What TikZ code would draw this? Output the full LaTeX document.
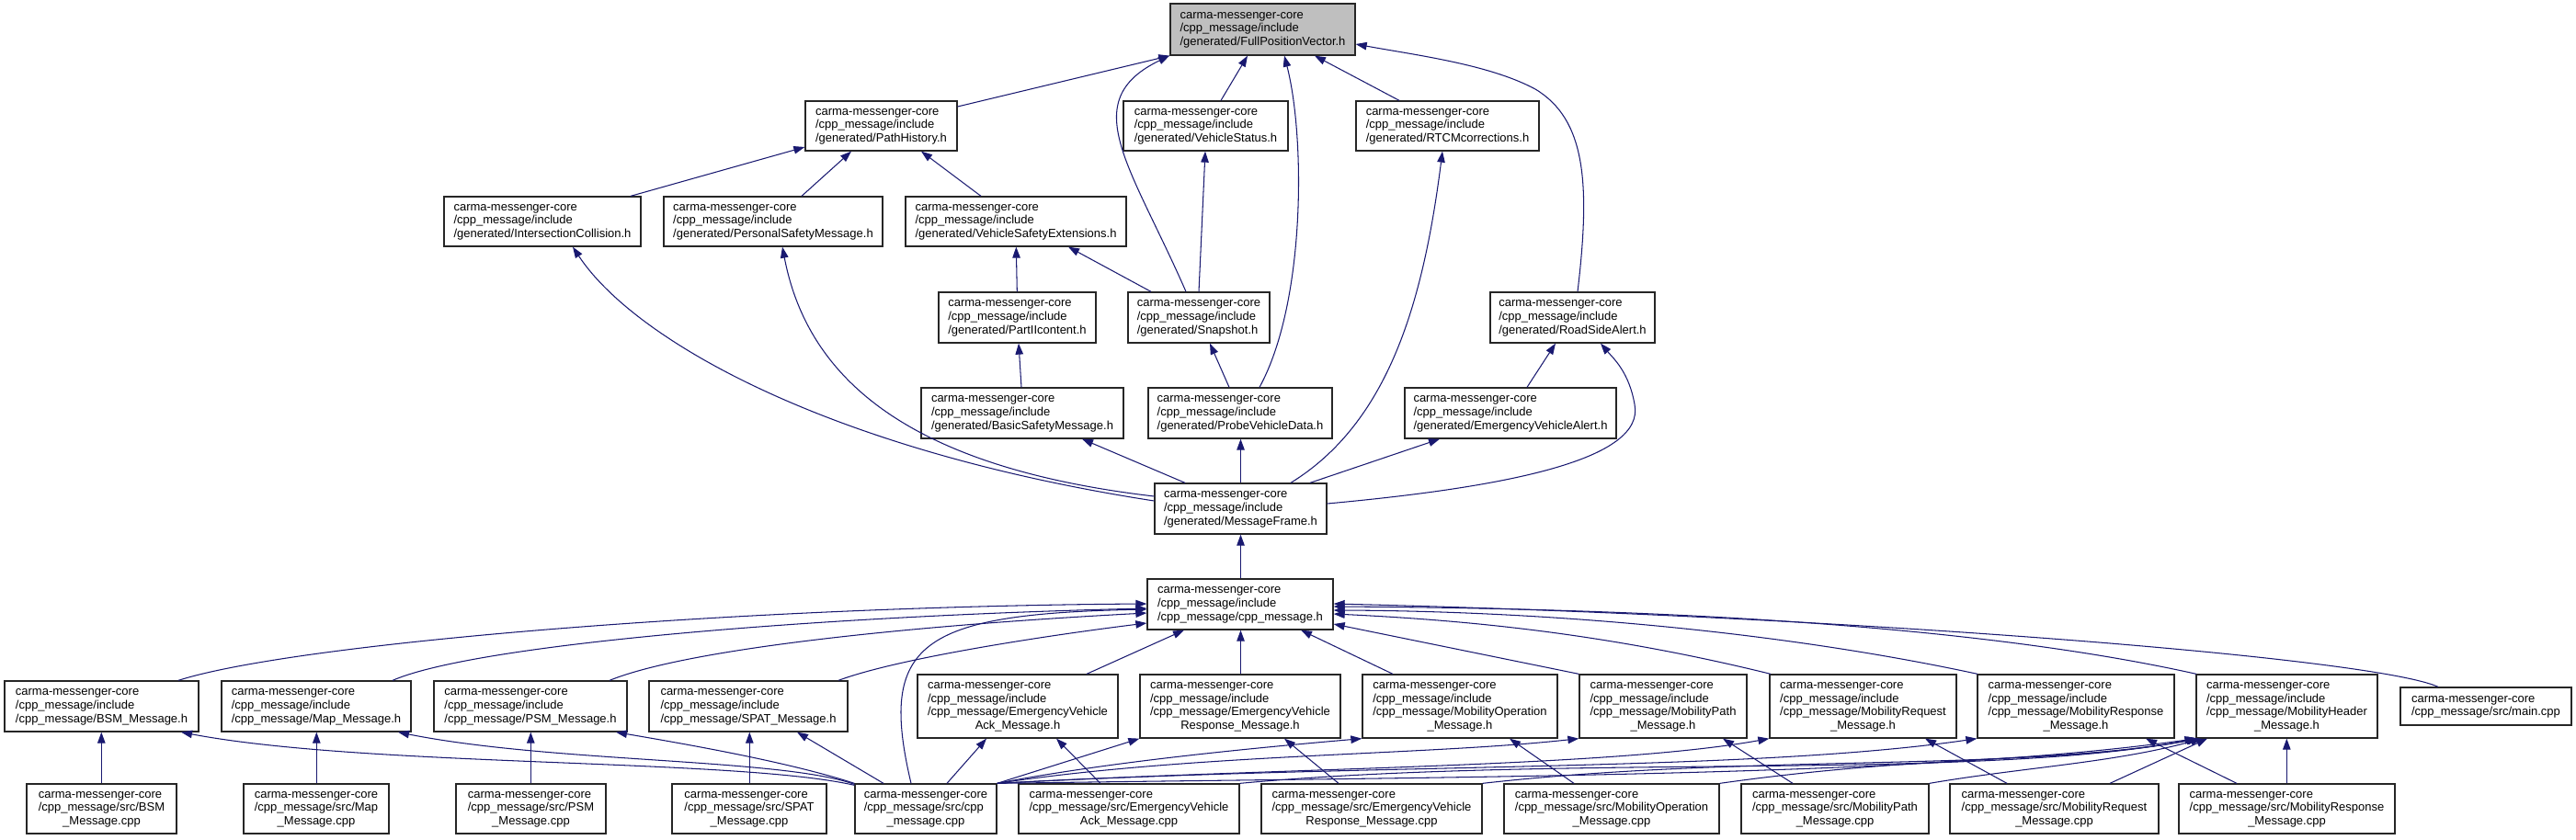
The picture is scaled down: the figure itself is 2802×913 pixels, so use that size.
\documentclass[tikz,border=0pt]{standalone}
\usepackage{fontspec}
\setmainfont{Liberation Sans}
\usetikzlibrary{arrows.meta}
\definecolor{edgec}{HTML}{191970}
\definecolor{rootc}{HTML}{BFBFBF}
\newcommand{\boxL}[3]{\begin{tabular}{@{}l@{}}#1\\#2\\#3\end{tabular}}
\newcommand{\boxC}[3]{\begin{tabular}{@{}l@{}}#1\\#2\\\multicolumn{1}{@{}c@{}}{#3}\end{tabular}}
\newcommand{\boxQ}[4]{\begin{tabular}{@{}l@{}}#1\\#2\\#3\\\multicolumn{1}{@{}c@{}}{#4}\end{tabular}}
\newcommand{\cmc}{carma-messenger-core}
\newcommand{\cmi}{/cpp\_message/include}
\tikzset{
  bx/.style={draw=black!85, line width=1.3pt, fill=white, inner sep=0pt,
    font=\fontsize{13}{14.6}\selectfont},
  e/.style={draw=edgec, line width=1.05pt, -{Triangle[length=12pt,width=8.5pt]}},
}
\begin{document}
\begin{tikzpicture}[x=1pt,y=-1pt]
\useasboundingbox (0,0) rectangle (2802,913);
% row 1
\node[bx,fill=rootc,minimum width=201pt,minimum height=56pt] (fpv) at (1373.5,32) {\boxL{\cmc}{\cmi}{/generated/FullPositionVector.h}};
% row 2
\node[bx,minimum width=165pt,minimum height=54pt] (ph) at (958.5,137) {\boxL{\cmc}{\cmi}{/generated/PathHistory.h}};
\node[bx,minimum width=179pt,minimum height=54pt] (vs) at (1311.5,137) {\boxL{\cmc}{\cmi}{/generated/VehicleStatus.h}};
\node[bx,minimum width=199pt,minimum height=54pt] (rtcm) at (1574.5,137) {\boxL{\cmc}{\cmi}{/generated/RTCMcorrections.h}};
% row 3
\node[bx,minimum width=214pt,minimum height=54pt] (ic) at (590,241) {\boxL{\cmc}{\cmi}{/generated/IntersectionCollision.h}};
\node[bx,minimum width=238pt,minimum height=54pt] (psm) at (841,241) {\boxL{\cmc}{\cmi}{/generated/PersonalSafetyMessage.h}};
\node[bx,minimum width=240pt,minimum height=54pt] (vse) at (1105,241) {\boxL{\cmc}{\cmi}{/generated/VehicleSafetyExtensions.h}};
% row 4
\node[bx,minimum width=171pt,minimum height=55pt] (p2) at (1106.5,345.5) {\boxL{\cmc}{\cmi}{/generated/PartIIcontent.h}};
\node[bx,minimum width=154pt,minimum height=55pt] (snap) at (1304,345.5) {\boxL{\cmc}{\cmi}{/generated/Snapshot.h}};
\node[bx,minimum width=179pt,minimum height=55pt] (rsa) at (1710.5,345.5) {\boxL{\cmc}{\cmi}{/generated/RoadSideAlert.h}};
% row 5
\node[bx,minimum width=220pt,minimum height=55pt] (bsm) at (1112,449.5) {\boxL{\cmc}{\cmi}{/generated/BasicSafetyMessage.h}};
\node[bx,minimum width=200pt,minimum height=55pt] (pvd) at (1349,449.5) {\boxL{\cmc}{\cmi}{/generated/ProbeVehicleData.h}};
\node[bx,minimum width=230pt,minimum height=55pt] (eva) at (1643,449.5) {\boxL{\cmc}{\cmi}{/generated/EmergencyVehicleAlert.h}};
% row 6, 7
\node[bx,minimum width=187pt,minimum height=55pt] (mf) at (1349.5,553.5) {\boxL{\cmc}{\cmi}{/generated/MessageFrame.h}};
\node[bx,minimum width=202pt,minimum height=55pt] (cpph) at (1349,657.5) {\boxL{\cmc}{\cmi}{/cpp\_message/cpp\_message.h}};
% row 8
\node[bx,minimum width=211pt,minimum height=55pt] (bsmh) at (110.5,768.5) {\boxL{\cmc}{\cmi}{/cpp\_message/BSM\_Message.h}};
\node[bx,minimum width=206pt,minimum height=55pt] (maph) at (344,768.5) {\boxL{\cmc}{\cmi}{/cpp\_message/Map\_Message.h}};
\node[bx,minimum width=210pt,minimum height=55pt] (psmh) at (577,768.5) {\boxL{\cmc}{\cmi}{/cpp\_message/PSM\_Message.h}};
\node[bx,minimum width=216pt,minimum height=55pt] (spath) at (814,768.5) {\boxL{\cmc}{\cmi}{/cpp\_message/SPAT\_Message.h}};
\node[bx,minimum width=218pt,minimum height=69pt] (evah) at (1107,768.5) {\boxQ{\cmc}{\cmi}{/cpp\_message/EmergencyVehicle}{Ack\_Message.h}};
\node[bx,minimum width=218pt,minimum height=69pt] (evrh) at (1349,768.5) {\boxQ{\cmc}{\cmi}{/cpp\_message/EmergencyVehicle}{Response\_Message.h}};
\node[bx,minimum width=212pt,minimum height=69pt] (moph) at (1588,768.5) {\boxQ{\cmc}{\cmi}{/cpp\_message/MobilityOperation}{\_Message.h}};
\node[bx,minimum width=182pt,minimum height=69pt] (mpath) at (1809,768.5) {\boxQ{\cmc}{\cmi}{/cpp\_message/MobilityPath}{\_Message.h}};
\node[bx,minimum width=203pt,minimum height=69pt] (mreqh) at (2026.5,768.5) {\boxQ{\cmc}{\cmi}{/cpp\_message/MobilityRequest}{\_Message.h}};
\node[bx,minimum width=214pt,minimum height=69pt] (mresh) at (2258,768.5) {\boxQ{\cmc}{\cmi}{/cpp\_message/MobilityResponse}{\_Message.h}};
\node[bx,minimum width=197pt,minimum height=69pt] (mhdh) at (2487.5,768.5) {\boxQ{\cmc}{\cmi}{/cpp\_message/MobilityHeader}{\_Message.h}};
\node[bx,minimum width=186pt,minimum height=41pt] (main) at (2704,768.5) {\begin{tabular}{@{}l@{}}\cmc\\/cpp\_message/src/main.cpp\end{tabular}};
% row 9
\node[bx,minimum width=163pt,minimum height=54pt] (bsmc) at (110.5,880) {\boxC{\cmc}{/cpp\_message/src/BSM}{\_Message.cpp}};
\node[bx,minimum width=158pt,minimum height=54pt] (mapc) at (344,880) {\boxC{\cmc}{/cpp\_message/src/Map}{\_Message.cpp}};
\node[bx,minimum width=163pt,minimum height=54pt] (psmc) at (577.5,880) {\boxC{\cmc}{/cpp\_message/src/PSM}{\_Message.cpp}};
\node[bx,minimum width=168pt,minimum height=54pt] (spatc) at (815,880) {\boxC{\cmc}{/cpp\_message/src/SPAT}{\_Message.cpp}};
\node[bx,minimum width=154pt,minimum height=54pt] (cppc) at (1007,880) {\boxC{\cmc}{/cpp\_message/src/cpp}{\_message.cpp}};
\node[bx,minimum width=240pt,minimum height=54pt] (evac) at (1228,880) {\boxC{\cmc}{/cpp\_message/src/EmergencyVehicle}{Ack\_Message.cpp}};
\node[bx,minimum width=240pt,minimum height=54pt] (evrc) at (1492,880) {\boxC{\cmc}{/cpp\_message/src/EmergencyVehicle}{Response\_Message.cpp}};
\node[bx,minimum width=234pt,minimum height=54pt] (mopc) at (1753,880) {\boxC{\cmc}{/cpp\_message/src/MobilityOperation}{\_Message.cpp}};
\node[bx,minimum width=204pt,minimum height=54pt] (mpatc) at (1996,880) {\boxC{\cmc}{/cpp\_message/src/MobilityPath}{\_Message.cpp}};
\node[bx,minimum width=227pt,minimum height=54pt] (mreqc) at (2234.5,880) {\boxC{\cmc}{/cpp\_message/src/MobilityRequest}{\_Message.cpp}};
\node[bx,minimum width=235pt,minimum height=54pt] (mresc) at (2487.5,880) {\boxC{\cmc}{/cpp\_message/src/MobilityResponse}{\_Message.cpp}};

% ---- edges: child -> parent
\draw[e] (ph.east |- 0,116) -- (fpv.south west);
\draw[e] (1290,0 |- snap.north) .. controls (1230,180) and (1170,110) .. (1272,0 |- fpv.south);
\draw[e] (1328,0 |- vs.north) -- (1357,0 |- fpv.south);
\draw[e] (1370,0 |- pvd.north) .. controls (1420,330) and (1420,150) .. (1397,0 |- fpv.south);
\draw[e] (1522,0 |- rtcm.north) -- (1430,0 |- fpv.south);
\draw[e] (1716,0 |- rsa.north) .. controls (1730,200) and (1725,130) .. (1670,97) .. controls (1620,70) and (1540,60) .. (fpv.east |- 0,48);
\draw[e] (686,0 |- ic.north) -- (ph.west |- 0,160);
\draw[e] (872,0 |- psm.north) -- (926,0 |- ph.south);
\draw[e] (1067,0 |- vse.north) -- (1002,0 |- ph.south);
\draw[e] (1106.3,0 |- p2.north) -- (1105.3,0 |- vse.south);
\draw[e] (1252,0 |- snap.north) -- (1162,0 |- vse.south);
\draw[e] (1304,0 |- snap.north) -- (1311,0 |- vs.south);
\draw[e] (1337,0 |- pvd.north) -- (1316,0 |- snap.south);
\draw[e] (1111,0 |- bsm.north) -- (1108,0 |- p2.south);
\draw[e] (1661,0 |- eva.north) -- (1692,0 |- rsa.south);
\draw[e] (mf.east |- 0,548) .. controls (1640,530) and (1790,500) .. (1778,440) .. controls (1772,405) and (1755,390) .. (1741,0 |- rsa.south);
\draw[e] (1425,0 |- mf.north) -- (1566,0 |- eva.south);
\draw[e] (1349.5,0 |- mf.north) -- (1349.5,0 |- pvd.south);
\draw[e] (1289,0 |- mf.north) -- (1177,0 |- bsm.south);
\draw[e] (1404,0 |- mf.north) .. controls (1510,460) and (1548,330) .. (1569,0 |- rtcm.south);
\draw[e] (mf.west |- 0,545) .. controls (900,490) and (690,370) .. (623,0 |- ic.south);
\draw[e] (mf.west |- 0,540) .. controls (1000,510) and (880,420) .. (851,0 |- psm.south);
\draw[e] (1349.5,0 |- cpph.north) -- (1349.5,0 |- mf.south);
% row 8 -> cpp_message.h
\draw[e] (194,0 |- bsmh.north) .. controls (320,700) and (800,660) .. (cpph.west |- 0,657);
\draw[e] (427,0 |- maph.north) .. controls (520,700) and (900,670) .. (cpph.west |- 0,662);
\draw[e] (663,0 |- psmh.north) .. controls (750,705) and (1000,680) .. (cpph.west |- 0,667);
\draw[e] (912,0 |- spath.north) .. controls (980,715) and (1150,690) .. (cpph.west |- 0,678);
\draw[e] (991,0 |- cppc.north) .. controls (955,700) and (1000,668) .. (cpph.west |- 0,663);
\draw[e] (1182,0 |- evah.north) -- (1288,0 |- cpph.south);
\draw[e] (1349.5,0 |- evrh.north) -- (1349.5,0 |- cpph.south);
\draw[e] (1515,0 |- moph.north) -- (1415,0 |- cpph.south);
\draw[e] (mpath.north west) -- (cpph.east |- 0,679);
\draw[e] (1926,0 |- mreqh.north) .. controls (1750,690) and (1600,675) .. (cpph.east |- 0,668);
\draw[e] (2151,0 |- mresh.north) .. controls (1950,690) and (1700,665) .. (cpph.east |- 0,664);
\draw[e] (2389,0 |- mhdh.north) .. controls (2150,680) and (1800,662) .. (cpph.east |- 0,660);
\draw[e] (2652,0 |- main.north) .. controls (2580,715) and (2000,670) .. (cpph.east |- 0,657);
% row 9 -> row 8
\draw[e] (110.3,0 |- bsmc.north) -- (110.3,0 |- bsmh.south);
\draw[e] (344.3,0 |- mapc.north) -- (344.3,0 |- maph.south);
\draw[e] (577.3,0 |- psmc.north) -- (577.3,0 |- psmh.south);
\draw[e] (815.3,0 |- spatc.north) -- (815.3,0 |- spath.south);
\draw[e] (961,0 |- cppc.north) -- (867,0 |- spath.south);
\draw[e] (cppc.north west) .. controls (860,830) and (760,812) .. (670,0 |- psmh.south);
\draw[e] ([yshift=-1pt]cppc.north west) .. controls (850,825) and (600,830) .. (433,0 |- maph.south);
\draw[e] ([yshift=-2pt]cppc.north west) .. controls (800,825) and (400,835) .. (197,0 |- bsmh.south);
\draw[e] (1030,0 |- cppc.north) -- (1073,0 |- evah.south);
\draw[e] (1197,0 |- evac.north) -- (1149,0 |- evah.south);
\draw[e] (cppc.north east) -- (evrh.south west);
\draw[e] (1456,0 |- evrc.north) -- (1397,0 |- evrh.south);
\draw[e] (cppc.north east) .. controls (1200,830) and (1350,815) .. (moph.south west);
\draw[e] (1712,0 |- mopc.north) -- (1642,0 |- moph.south);
\draw[e] (cppc.north east) .. controls (1300,820) and (1550,822) .. (mpath.south west);
\draw[e] (1950,0 |- mpatc.north) -- (1874,0 |- mpath.south);
\draw[e] (cppc.north east) .. controls (1400,835) and (1750,835) .. (mreqh.south west);
\draw[e] (2183,0 |- mreqc.north) -- (2094,0 |- mreqh.south);
\draw[e] (cppc.north east) .. controls (1500,830) and (1900,840) .. (mresh.south west);
\draw[e] (2433,0 |- mresc.north) -- (2334,0 |- mresh.south);
\draw[e] (cppc.north east) .. controls (1600,845) and (2100,845) .. (mhdh.south west);
\draw[e] (evac.north east) .. controls (1700,820) and (2150,850) .. (2390,0 |- mhdh.south);
\draw[e] (evrc.north east) .. controls (1900,820) and (2200,840) .. (2391,0 |- mhdh.south);
\draw[e] (mopc.north east) .. controls (2100,820) and (2250,830) .. (2392,0 |- mhdh.south);
\draw[e] (mpatc.north east) .. controls (2200,835) and (2300,830) .. (2395,0 |- mhdh.south);
\draw[e] (2295,0 |- mreqc.north) -- (2401,0 |- mhdh.south);
\draw[e] (2487.3,0 |- mresc.north) -- (2487.3,0 |- mhdh.south);
\end{tikzpicture}
\end{document}
